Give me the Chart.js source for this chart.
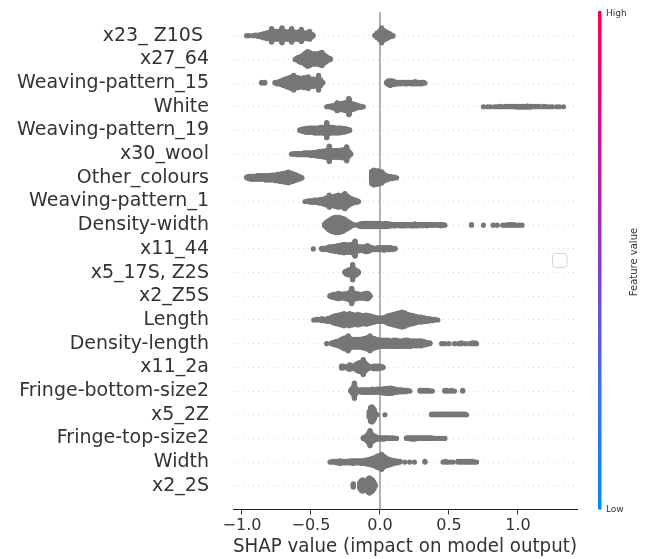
<!DOCTYPE html>
<html>
<head>
<meta charset="utf-8">
<script src="https://cdn.jsdelivr.net/npm/chart.js@4.4.1/dist/chart.umd.min.js"></script>
<style>
  body { margin: 0; background: #fff; }
</style>
</head>
<body>
<canvas id="shap" width="649" height="559"></canvas>
<script>
// feature names, top to bottom
var features = ['x23_ Z10S ', 'x27_64', 'Weaving-pattern_15', 'White', 'Weaving-pattern_19',
  'x30_wool', 'Other_colours', 'Weaving-pattern_1', 'Density-width', 'x11_44',
  'x5_17S, Z2S', 'x2_Z5S', 'Length', 'Density-length', 'x11_2a',
  'Fringe-bottom-size2', 'x5_2Z', 'Fringe-top-size2', 'Width', 'x2_2S'];

// shap values as [value, number of dots]
var x23_Z10S = [[-0.966,1],[-0.95,1],[-0.92,1],[-0.90,2],[-0.88,3],[-0.86,5],[-0.84,7],[-0.82,9],[-0.80,10],
  [-0.785,20],[-0.77,12],[-0.75,12],[-0.73,12],[-0.71,22],[-0.69,12],[-0.67,11],[-0.655,12],[-0.64,20],
  [-0.62,11],[-0.60,11],[-0.585,11],[-0.57,18],[-0.55,9],[-0.53,9],[-0.51,12],[-0.495,5],[-0.485,2],
  [-0.036,2],[-0.02,8],[0.0,14],[0.012,22],[0.03,14],[0.05,10],[0.07,6],[0.085,3],[0.095,1]];
var x27_64 = [[-0.615,1],[-0.60,4],[-0.585,7],[-0.57,9],[-0.555,12],[-0.54,16],[-0.525,20],[-0.51,18],
  [-0.495,14],[-0.48,14],[-0.465,14],[-0.45,14],[-0.435,16],[-0.42,18],[-0.405,12],[-0.39,8],[-0.375,4],
  [-0.36,2]];
var wp15 = [[-0.857,2],[-0.835,2],[-0.76,2],[-0.745,3],[-0.73,4],[-0.715,6],[-0.70,8],[-0.685,10],
  [-0.67,12],[-0.655,14],[-0.64,16],[-0.625,20],[-0.61,14],[-0.595,14],[-0.58,12],[-0.565,12],
  [-0.55,14],[-0.535,12],[-0.52,16],[-0.505,10],[-0.49,10],[-0.475,10],[-0.46,8],[-0.445,20],
  [-0.43,8],[-0.415,2],
  [0.048,2],[0.06,6],[0.075,7],[0.09,6],[0.105,5],[0.12,3],[0.135,3],[0.15,3],[0.165,2],[0.18,3],
  [0.195,3],[0.21,2],[0.225,3],[0.24,3],[0.255,4],[0.27,3],[0.285,3],[0.30,3],[0.315,2],[0.326,1]];
var white = [[-0.386,1],[-0.37,2],[-0.355,4],[-0.34,7],[-0.325,10],[-0.31,13],[-0.295,16],[-0.28,18],
  [-0.265,20],[-0.25,22],[-0.24,24],[-0.225,22],[-0.21,19],[-0.195,16],[-0.18,12],[-0.165,8],
  [-0.15,5],[-0.135,3],[-0.12,1],
  [0.75,1],[0.78,1],[0.80,1],[0.83,1],[0.85,1],[0.87,2],[0.89,1],[0.91,2],[0.93,2],[0.95,2],[0.97,2],
  [0.99,3],[1.01,3],[1.03,3],[1.05,3],[1.07,4],[1.09,3],[1.11,2],[1.13,2],[1.15,2],[1.17,1],[1.19,2],
  [1.21,1],[1.23,1],[1.25,1],[1.28,1],[1.30,1],[1.33,1]];
var wp19 = [[-0.58,2],[-0.565,4],[-0.55,6],[-0.535,7],[-0.52,8],[-0.505,8],[-0.49,8],[-0.475,9],
  [-0.46,9],[-0.445,9],[-0.43,10],[-0.415,10],[-0.40,11],[-0.386,26],[-0.37,11],[-0.355,10],
  [-0.34,10],[-0.325,9],[-0.31,9],[-0.295,9],[-0.28,8],[-0.265,7],[-0.25,6],[-0.235,4],[-0.22,2]];
var x30_wool = [[-0.64,1],[-0.625,2],[-0.61,2],[-0.595,3],[-0.58,3],[-0.565,3],[-0.55,4],[-0.535,4],
  [-0.52,4],[-0.505,5],[-0.49,5],[-0.475,6],[-0.46,7],[-0.445,8],[-0.43,9],[-0.415,10],[-0.40,11],
  [-0.385,12],[-0.367,26],[-0.35,12],[-0.335,12],[-0.32,12],[-0.305,12],[-0.29,12],[-0.275,14],
  [-0.26,14],[-0.241,24],[-0.225,8],[-0.212,2]];
var otherColours = [[-0.966,2],[-0.95,4],[-0.935,5],[-0.92,5],[-0.905,5],[-0.89,6],[-0.875,6],
  [-0.86,6],[-0.845,6],[-0.83,7],[-0.815,7],[-0.80,7],[-0.785,8],[-0.77,8],[-0.755,9],[-0.74,10],
  [-0.725,11],[-0.71,12],[-0.695,13],[-0.68,14],[-0.664,16],[-0.65,14],[-0.635,12],[-0.62,10],
  [-0.605,8],[-0.59,5],[-0.575,3],[-0.565,1],
  [-0.06,18],[-0.045,22],[-0.03,20],[-0.015,20],[0.0,18],[0.015,16],[0.03,10],[0.045,7],[0.06,5],
  [0.075,4],[0.09,3],[0.105,2],[0.12,1]];
var wp1 = [[-0.543,1],[-0.52,2],[-0.505,3],[-0.49,3],[-0.475,4],[-0.46,4],[-0.445,5],[-0.43,6],
  [-0.415,7],[-0.40,9],[-0.385,11],[-0.367,18],[-0.35,12],[-0.335,14],[-0.32,16],[-0.302,18],
  [-0.285,16],[-0.27,18],[-0.254,22],[-0.24,16],[-0.225,12],[-0.21,8],[-0.195,6],[-0.18,4],
  [-0.165,3],[-0.155,1]];
var densityWidth = [[-0.40,4],[-0.385,10],[-0.37,15],[-0.355,19],[-0.34,22],[-0.325,24],[-0.31,24],
  [-0.295,24],[-0.28,22],[-0.265,20],[-0.25,16],[-0.235,12],[-0.22,8],[-0.205,4],[-0.19,2],
  [-0.157,3],[-0.14,5],[-0.125,6],[-0.11,6],[-0.095,6],[-0.08,6],[-0.065,6],[-0.05,6],[-0.035,6],
  [-0.02,6],[-0.005,6],[0.01,5],[0.025,5],[0.04,6],[0.055,5],[0.07,4],[0.085,3],[0.10,3],[0.115,3],
  [0.13,2],[0.145,3],[0.16,3],[0.175,3],[0.19,3],[0.205,2],[0.22,3],[0.235,3],[0.25,4],[0.265,3],
  [0.28,3],[0.295,2],[0.31,3],[0.325,2],[0.34,3],[0.355,2],[0.37,2],[0.385,2],[0.40,2],[0.42,2],
  [0.44,3],[0.455,2],[0.471,1],
  [0.664,2],[0.75,1],[0.82,1],[0.85,1],[0.89,1],[0.91,1],[0.93,2],[0.95,2],[0.97,2],[0.99,1],[1.01,1],
  [1.03,1]];
var x11_44 = [[-0.483,1],[-0.423,2],[-0.41,3],[-0.395,3],[-0.38,4],[-0.365,6],[-0.35,7],[-0.335,8],
  [-0.32,9],[-0.305,10],[-0.29,11],[-0.275,12],[-0.26,14],[-0.245,12],[-0.23,12],[-0.215,12],
  [-0.20,14],[-0.181,24],[-0.165,8],[-0.15,7],[-0.135,6],[-0.12,7],[-0.105,9],[-0.09,10],[-0.075,7],
  [-0.06,4],[-0.045,3],[-0.03,3],[-0.015,4],[0.0,4],[0.015,4],[0.03,5],[0.045,4],[0.06,4],[0.075,4],
  [0.09,3],[0.109,2]];
var x5_17S = [[-0.254,2],[-0.245,5],[-0.235,7],[-0.225,8],[-0.215,9],[-0.205,10],[-0.198,24],
  [-0.19,10],[-0.18,9],[-0.17,7],[-0.16,4],[-0.155,1]];
var x2_Z5S = [[-0.362,2],[-0.35,4],[-0.335,6],[-0.32,7],[-0.302,10],[-0.29,8],[-0.275,7],[-0.26,8],
  [-0.245,9],[-0.23,11],[-0.218,14],[-0.205,26],[-0.19,12],[-0.175,9],[-0.16,8],[-0.145,7],
  [-0.13,7],[-0.115,8],[-0.10,10],[-0.09,10],[-0.08,6],[-0.072,2]];
var lengthVals = [[-0.48,1],[-0.46,2],[-0.44,2],[-0.42,4],[-0.40,3],[-0.38,5],[-0.36,6],[-0.34,10],
  [-0.32,12],[-0.30,14],[-0.28,16],[-0.26,18],[-0.24,16],[-0.22,18],[-0.20,16],[-0.18,14],[-0.16,16],
  [-0.14,14],[-0.12,12],[-0.10,14],[-0.08,12],[-0.06,10],[-0.04,8],[-0.02,6],[0.00,6],[0.02,6],
  [0.04,8],[0.06,12],[0.08,14],[0.10,16],[0.12,18],[0.14,20],[0.16,22],[0.18,20],[0.20,16],[0.22,14],
  [0.24,12],[0.26,10],[0.28,8],[0.30,8],[0.32,6],[0.34,5],[0.36,4],[0.38,3],[0.40,2],[0.42,1]];
var densityLength = [[-0.386,1],[-0.35,2],[-0.335,4],[-0.32,6],[-0.30,8],[-0.28,12],[-0.26,16],
  [-0.24,18],[-0.23,22],[-0.215,14],[-0.20,12],[-0.18,12],[-0.16,12],[-0.14,12],[-0.12,14],[-0.10,16],
  [-0.085,18],[-0.072,22],[-0.055,16],[-0.04,14],[-0.02,12],[0.00,10],[0.02,10],[0.04,10],[0.06,10],
  [0.08,9],[0.10,10],[0.12,10],[0.14,9],[0.16,9],[0.18,10],[0.20,10],[0.22,9],[0.24,8],[0.26,8],
  [0.28,8],[0.30,8],[0.32,6],[0.34,4],[0.362,2],
  [0.447,1],[0.47,1],[0.50,1],[0.54,1],[0.57,1],[0.59,2],[0.62,1],[0.65,1],[0.67,2],[0.69,2],[0.70,1]];
var x11_2a = [[-0.278,4],[-0.268,4],[-0.255,2],[-0.23,5],[-0.22,8],[-0.21,6],[-0.19,4],[-0.18,6],
  [-0.17,10],[-0.16,12],[-0.15,14],[-0.14,14],[-0.13,16],[-0.121,24],[-0.11,14],[-0.10,10],[-0.09,6],
  [-0.08,3],[-0.06,3],[-0.045,5],[-0.03,5],[-0.015,5],[0.0,4],[0.015,3],[0.024,1]];
var fringeBottom = [[-0.212,2],[-0.203,6],[-0.194,12],[-0.185,26],[-0.176,10],[-0.167,5],[-0.158,3],
  [-0.145,4],[-0.13,5],[-0.115,5],[-0.10,5],[-0.085,5],[-0.07,5],[-0.055,6],[-0.04,5],[-0.025,6],
  [-0.01,6],[0.005,6],[0.02,7],[0.035,8],[0.05,9],[0.065,10],[0.08,10],[0.095,8],[0.11,6],[0.125,5],
  [0.14,4],[0.155,4],[0.17,3],[0.185,3],[0.20,2],[0.217,1],
  [0.29,2],[0.305,2],[0.32,2],[0.335,2],[0.35,2],[0.365,1],[0.38,1],[0.47,2],[0.485,2],[0.50,1],
  [0.52,2],[0.54,1],[0.60,2]];
var x5_2Z = [[-0.077,10],[-0.068,22],[-0.059,24],[-0.05,20],[-0.041,14],[-0.032,4],[-0.02,1],[0.036,1],
  [0.374,2],[0.39,2],[0.405,2],[0.42,2],[0.435,2],[0.45,2],[0.465,2],[0.48,2],[0.495,2],[0.51,2],
  [0.525,2],[0.54,2],[0.555,2],[0.57,2],[0.585,2],[0.60,2],[0.615,2],[0.628,1]];
var fringeTop = [[-0.121,2],[-0.11,4],[-0.10,6],[-0.09,10],[-0.08,16],[-0.072,24],[-0.063,14],
  [-0.054,10],[-0.045,8],[-0.036,6],[-0.027,4],[-0.014,3],[0.0,3],[0.015,3],[0.03,3],[0.045,2],
  [0.06,2],[0.08,2],[0.10,2],[0.12,1],
  [0.193,2],[0.21,2],[0.225,3],[0.24,3],[0.255,3],[0.27,2],[0.285,2],[0.30,2],[0.315,2],[0.33,2],
  [0.345,2],[0.36,2],[0.375,2],[0.39,1],[0.41,1],[0.43,1],[0.45,1],[0.471,1]];
var widthVals = [[-0.362,1],[-0.345,2],[-0.33,2],[-0.315,3],[-0.30,3],[-0.29,5],[-0.275,3],[-0.26,3],
  [-0.245,3],[-0.23,3],[-0.215,4],[-0.195,5],[-0.18,4],[-0.165,4],[-0.15,4],[-0.135,5],[-0.12,5],
  [-0.105,6],[-0.094,7],[-0.08,8],[-0.065,10],[-0.05,12],[-0.035,14],[-0.02,18],[-0.005,20],
  [0.012,24],[0.025,18],[0.04,14],[0.055,11],[0.07,9],[0.085,7],[0.10,5],[0.115,4],[0.13,3],
  [0.145,2],[0.18,1],[0.215,1],[0.25,1],[0.326,2],
  [0.457,1],[0.475,2],[0.49,1],[0.51,1],[0.53,1],[0.565,2],[0.58,2],[0.595,2],[0.61,2],[0.625,2],
  [0.64,2],[0.655,2],[0.67,2],[0.685,1],[0.70,1]];
var x2_2S = [[-0.193,6],[-0.145,10],[-0.135,16],[-0.125,18],[-0.115,14],[-0.105,12],[-0.095,16],
  [-0.085,22],[-0.075,24],[-0.065,20],[-0.055,18],[-0.045,12],[-0.036,4]];

var rows = [x23_Z10S, x27_64, wp15, white, wp19, x30_wool, otherColours, wp1, densityWidth, x11_44,
  x5_17S, x2_Z5S, lengthVals, densityLength, x11_2a, fringeBottom, x5_2Z, fringeTop, widthVals, x2_2S];

var xTickValues = [-1, -0.5, 0, 0.5, 1];
var xTickLabels = ['\u22121.0', '\u22120.5', '0.0', '0.5', '1.0'];

// beeswarm offsets the way shap stacks dots within 100 bins per row
function swarm(pairs, pos){
  var vals = [];
  pairs.forEach(function(p){ for(var i = 0; i < p[1]; i++){ vals.push(p[0]); } });
  var lo = Math.min.apply(null, vals), hi = Math.max.apply(null, vals);
  var q = vals.map(function(v){ return Math.round(100 * (v - lo) / (hi - lo + 1e-8)); });
  var idx = vals.map(function(v, i){ return i; }).sort(function(a, b){ return q[a] - q[b] || vals[a] - vals[b] || a - b; });
  var ys = vals.map(function(){ return 0; });
  var layer = 0, last = -1;
  idx.forEach(function(i){
    if(q[i] !== last){ layer = 0; }
    ys[i] = Math.ceil(layer / 2) * ((layer % 2) * 2 - 1);
    layer++;
    last = q[i];
  });
  var m = Math.max.apply(null, ys.map(function(y){ return y + 1; }));
  return vals.map(function(v, i){ return {x: v, y: pos + ys[i] * 0.9 * 0.4 / m}; });
}

var points = [];
rows.forEach(function(r, i){ points = points.concat(swarm(r, features.length - 1 - i)); });

var extras = {
  id: 'extras',
  afterDraw: function(chart){
    var c = chart.ctx, a = chart.chartArea;
    c.save();
    // colour bar
    var g = c.createLinearGradient(0, a.bottom, 0, a.top);
    g.addColorStop(0, '#008bfb');
    g.addColorStop(0.25, '#3d6fee');
    g.addColorStop(0.5, '#8a3bc4');
    g.addColorStop(0.75, '#c8129a');
    g.addColorStop(1, '#ff0052');
    c.fillStyle = g;
    c.fillRect(598, a.top - 1, 3.5, a.bottom - a.top + 1);
    c.fillStyle = '#333';
    c.font = '9px "DejaVu Sans"';
    c.textBaseline = 'middle';
    c.fillText('High', 606, 14);
    c.fillText('Low', 606, 510);
    c.translate(634, 262);
    c.rotate(-Math.PI / 2);
    c.textAlign = 'center';
    c.font = '10px "DejaVu Sans"';
    c.fillText('Feature value', 0, 0);
    c.restore();
    // empty legend frame
    c.save();
    c.fillStyle = '#fff';
    c.strokeStyle = '#d4d4d4';
    c.lineWidth = 1;
    c.beginPath();
    c.roundRect(552.5, 253.5, 14.5, 14, 3);
    c.fill();
    c.stroke();
    c.restore();
  }
};

new Chart(document.getElementById('shap'), {
  type: 'scatter',
  data: {
    datasets: [{
      data: points,
      backgroundColor: '#777777',
      borderWidth: 0,
      pointRadius: 2.6,
      pointHoverRadius: 2.6,
      order: 1
    }, {
      type: 'line',
      data: [{x: 0, y: -1}, {x: 0, y: 20}],
      borderColor: '#999999',
      borderWidth: 1.5,
      pointRadius: 0,
      order: 2
    }]
  },
  options: {
    responsive: false,
    animation: false,
    layout: { padding: { top: 12, right: 72, left: 0, bottom: 0 } },
    plugins: { legend: { display: false }, tooltip: { enabled: false } },
    scales: {
      x: {
        type: 'linear',
        min: -1.065,
        max: 1.428,
        afterFit: function(s){ s.height = 49.5; s.paddingLeft = 0; s.paddingRight = 0; },
        afterBuildTicks: function(s){ s.ticks = xTickValues.map(function(v){ return {value: v}; }); },
        ticks: {
          autoSkip: false, maxRotation: 0, padding: 2, color: '#333',
          font: { family: 'DejaVu Sans', size: 16 },
          callback: function(v){ return xTickLabels[xTickValues.indexOf(v)]; }
        },
        grid: { drawOnChartArea: false, drawTicks: true, tickLength: 5, tickColor: '#333', tickWidth: 1 },
        border: { display: true, color: '#222', width: 1 },
        title: {
          display: true, text: 'SHAP value (impact on model output)', color: '#333',
          font: { family: 'DejaVu Sans', size: 19 }, padding: { top: 0, bottom: 1 }
        }
      },
      y: {
        type: 'linear',
        min: -1,
        max: 20,
        afterFit: function(s){ s.width = 233; s.paddingTop = 0; s.paddingBottom = 0; },
        afterBuildTicks: function(s){ s.ticks = features.map(function(f, i){ return {value: i}; }); },
        ticks: {
          autoSkip: false, padding: 24, color: '#333',
          font: { family: 'DejaVu Sans', size: 19 },
          callback: function(v){ return features[features.length - 1 - v]; }
        },
        grid: { color: '#d0d0d0', lineWidth: 0.8, drawTicks: false },
        border: { display: false, dash: [1, 4] }
      }
    }
  },
  plugins: [extras]
});
</script>
</body>
</html>
